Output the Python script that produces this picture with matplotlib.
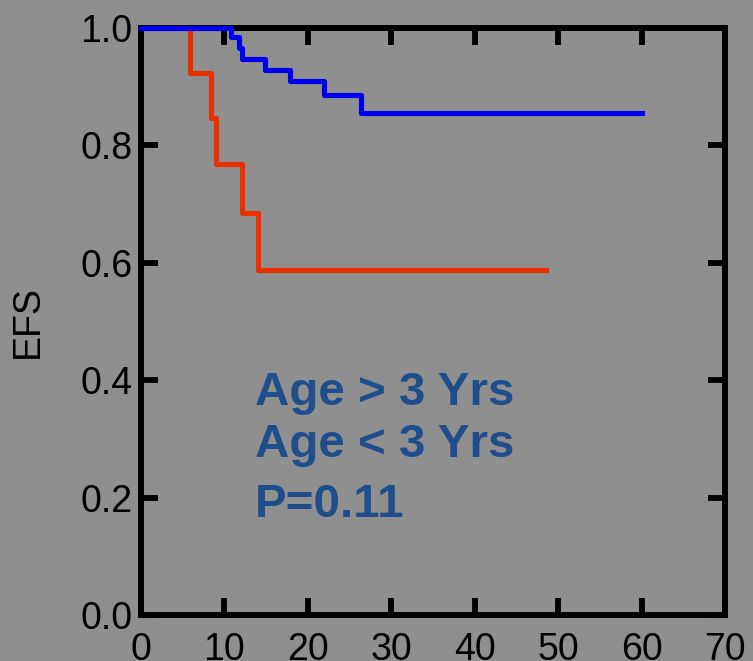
import matplotlib
matplotlib.use("Agg")
import matplotlib.pyplot as plt

# Kaplan-Meier step data (months, survival)
blue_t = [0, 10.8, 11.7, 12.1, 14.9, 17.9, 21.9, 26.4, 60.0]
blue_s = [1.0, 0.984, 0.966, 0.948, 0.929, 0.909, 0.886, 0.855, 0.855]
red_t = [0, 5.9, 8.4, 9.0, 12.1, 14.0, 48.5]
red_s = [1.0, 0.923, 0.846, 0.769, 0.684, 0.587, 0.587]

x_ticks = [0, 10, 20, 30, 40, 50, 60, 70]
y_ticks = [0.0, 0.2, 0.4, 0.6, 0.8, 1.0]
legend_lines = ["Age > 3 Yrs", "Age < 3 Yrs", "P=0.11"]

bg = "#8f8f8f"
plt.rcParams["font.family"] = ["Liberation Sans", "DejaVu Sans"]

fig = plt.figure(figsize=(7.53, 6.61), dpi=100, facecolor=bg)
ax = fig.add_axes([141 / 753, 1 - 615 / 661, 584 / 753, 587 / 661])
ax.set_facecolor(bg)

ax.step(blue_t, blue_s, where="post", color="#0000ee", lw=3.7, zorder=5, clip_on=False)
ax.step(red_t, red_s, where="post", color="#e83000", lw=3.7, zorder=4, clip_on=False)

ax.set_xlim(0, 70)
ax.set_ylim(0, 1.0)
ax.set_xticks(x_ticks)
ax.set_yticks(y_ticks)
ax.set_yticklabels(["%.1f" % v for v in y_ticks])

for s in ax.spines.values():
    s.set_linewidth(4.3)
    s.set_color("black")

ax.tick_params(direction="in", length=12, width=4.2, top=True, right=True,
               labelsize=27, colors="black")
ax.tick_params(axis="x", pad=12)
ax.tick_params(axis="y", pad=6)

fig.text(28 / 753, 1 - 322 / 661, "EFS", rotation=90, ha="center", va="center",
         fontsize=27)

y_text = [0.358, 0.269, 0.167]
for lbl, yy in zip(legend_lines, y_text):
    ax.text(13.7, yy, lbl, color="#1f4e8c", fontsize=34.2, fontweight="bold",
            ha="left", va="baseline")

fig.savefig("out.png", dpi=100, facecolor=bg)
